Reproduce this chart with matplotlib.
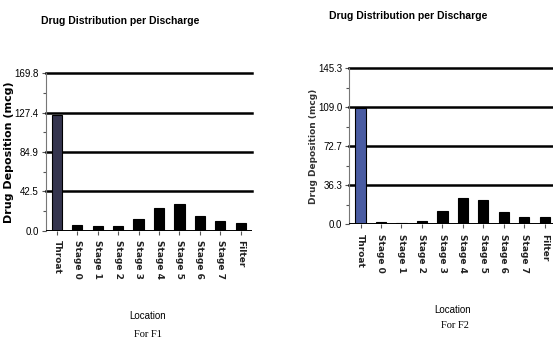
import matplotlib
matplotlib.use("Agg")
import matplotlib.pyplot as plt
import numpy as np
from matplotlib.ticker import FixedLocator

locations = ["Throat", "Stage 0", "Stage 1", "Stage 2", "Stage 3",
             "Stage 4", "Stage 5", "Stage 6", "Stage 7", "Filter"]

# drug deposited per discharge (mcg) at each location
f1_dep = [125.0, 6.1, 5.0, 5.5, 12.2, 24.8, 28.4, 15.8, 10.4, 8.6]
f2_dep = [108.0, 2.2, 1.2, 3.1, 12.1, 24.0, 22.7, 10.9, 6.2, 6.5]

f1_ticks = [0.0, 42.5, 84.9, 127.4, 169.8]
f2_ticks = [0.0, 36.3, 72.7, 109.0, 145.3]

SANS = ["Liberation Sans", "DejaVu Sans"]
SERIF = ["Liberation Serif", "DejaVu Serif"]

fig = plt.figure(figsize=(5.53, 3.47), dpi=100)
fig.patch.set_facecolor("white")


def panel(rect, vals, ticks, throat_col, ylab_x, ylab_kw):
    ax = fig.add_axes(rect)
    x = np.arange(len(vals))
    cols = [throat_col] + ["black"] * (len(vals) - 1)
    ax.bar(x, vals, width=0.5, color=cols, edgecolor="black", linewidth=0.8, zorder=3)
    ax.set_xlim(-0.55, len(vals) - 0.45)
    ax.set_ylim(0, ticks[-1])
    for t in ticks[1:]:
        ax.axhline(t, color="black", lw=1.8, zorder=2, clip_on=False)
    ax.axhline(0, color="black", lw=1.4, zorder=4)
    ax.set_yticks(ticks)
    ax.set_yticklabels([f"{t:.1f}" for t in ticks], family=SANS, fontsize=7)
    ax.yaxis.set_minor_locator(FixedLocator([(a + b) / 2 for a, b in zip(ticks[:-1], ticks[1:])]))
    ax.tick_params(axis="y", which="major", length=3, width=0.8, pad=2, color="#555555")
    ax.tick_params(axis="y", which="minor", length=2, width=0.8, color="#555555")
    ax.set_xticks(x)
    ax.set_xticklabels(locations, rotation=-90, fontsize=6.5, fontweight="bold", color="#222222")
    ax.tick_params(axis="x", length=3, width=0.8, pad=4, color="#555555")
    for s in ("top", "right", "bottom"):
        ax.spines[s].set_visible(False)
    ax.spines["left"].set_color("#777777")
    ax.spines["left"].set_linewidth(0.8)
    ax.set_ylabel("Drug Deposition (mcg)", **ylab_kw)
    ax.yaxis.set_label_coords(ylab_x, 0.5)
    return ax


panel([0.0826, 0.3352, 0.373, 0.4536], f1_dep, f1_ticks, "#34344e", -0.155,
      dict(fontsize=8, fontweight="bold"))
panel([0.6316, 0.3545, 0.3738, 0.4487], f2_dep, f2_ticks, "#4a5ca2", -0.15,
      dict(fontsize=6.5, fontweight="bold", color="#333333"))

fig.text(0.218, 0.940, "Drug Distribution per Discharge", family=SANS,
         fontsize=7.5, fontweight="bold", ha="center", va="center")
fig.text(0.738, 0.955, "Drug Distribution per Discharge", family=SANS,
         fontsize=7.5, fontweight="bold", ha="center", va="center")

fig.text(0.267, 0.089, "Location", family=SANS, fontsize=7, ha="center", va="center")
fig.text(0.267, 0.037, "For F1", family=SERIF, fontsize=7.5, ha="center", va="center")
fig.text(0.819, 0.107, "Location", family=SANS, fontsize=7, ha="center", va="center")
fig.text(0.823, 0.063, "For F2", family=SERIF, fontsize=7.5, ha="center", va="center")

fig.savefig("out.png", dpi=100)
